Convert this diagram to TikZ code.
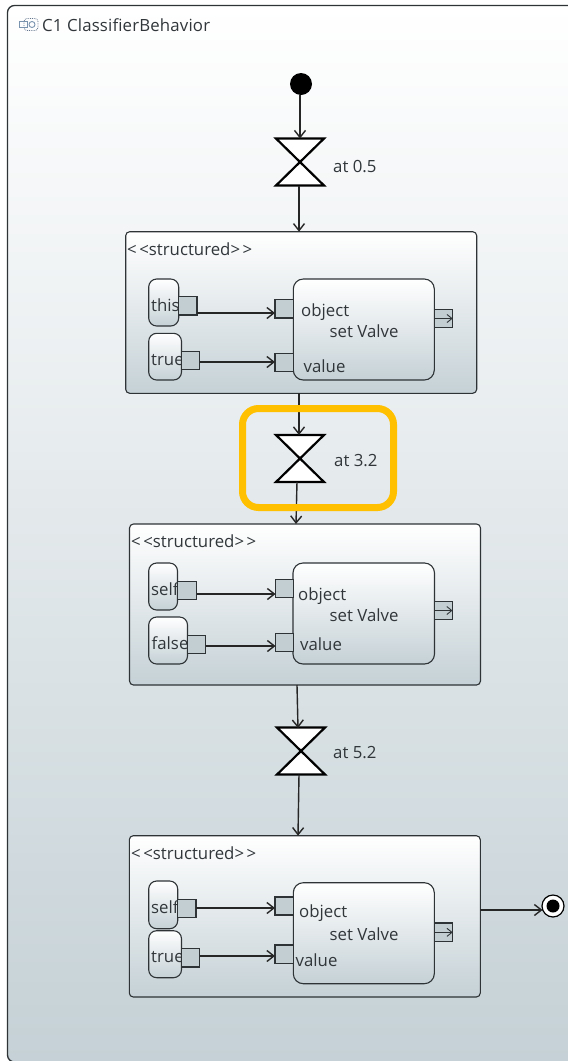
\documentclass[tikz,border=0pt]{standalone}
\usepackage{fontspec}
\setmainfont{Open Sans}
\usetikzlibrary{arrows.meta,calc}
\definecolor{bluegrey}{HTML}{C5D1D6}
\definecolor{pinfill}{HTML}{C3CED2}
\definecolor{linegrey}{HTML}{2E3336}
\definecolor{txt}{HTML}{30363A}
\definecolor{hl}{HTML}{FFC000}
\definecolor{iconc}{HTML}{7A94B0}
\tikzset{
  grad/.style={draw=linegrey,line width=1.1pt,top color=white,bottom color=bluegrey,inner sep=0pt,outer sep=0pt},
  frameb/.style={grad,rounded corners=7pt,line width=1.3pt},
  group/.style={grad,rounded corners=4pt},
  action/.style={grad,rounded corners=10pt},
  valpin/.style={grad,rounded corners=8pt},
  pinb/.style={draw=linegrey,line width=1.1pt,fill=pinfill,inner sep=0pt,outer sep=0pt},
  hourb/.style={inner sep=0pt,outer sep=0pt,minimum width=48pt,minimum height=47pt},
  hourl/.style={draw=black,line width=2.2pt,fill=white,line join=miter},
  conn/.style={draw=black!85,line width=1.4pt,-{Straight Barb[length=7pt,width=11pt,line width=1.4pt]}},
  thin conn/.style={draw=linegrey,line width=.9pt,-{Straight Barb[length=5pt,width=8pt,line width=.9pt]}},
  lab/.style={text=txt,font=\fontsize{16.8}{18}\selectfont,inner sep=0pt,anchor=base west},
  sterotype/.style={lab},
}
% corner-specified node: style, name, x1, y1, x2, y2
\newcommand\rn[6]{\path let \n1={#5-#3},\n2={#6-#4} in
  node[#1,minimum width=\n1,minimum height=\n2] (#2) at ({(#3+#5)/2},{(#4+#6)/2}) {};}
\newcommand\hourg[3]{\node[hourb] (#1) at (#2,#3) {};
  \draw[hourl] (#1.north west) -- (#1.north east) -- (#1.south west) -- (#1.south east) -- cycle;}
\newcommand\stereo{<\kern2.5pt<structured>\kern2.5pt>}
\begin{document}
\begin{tikzpicture}[x=1pt,y=-1pt]
\useasboundingbox (0,0) rectangle (568,1061);
\clip (0,0) rectangle (568,1061);
\fill[white] (0,0) rectangle (568,1061);
\path[frameb] (7.5,5.5) rectangle (585,1062);
% frame title icon
\draw[draw=iconc!80!black,densely dotted,line width=.8pt,rounded corners=3pt] (24,18.5) rectangle (38,30.5);
\draw[draw=iconc,line width=.9pt] (19.5,21.5) rectangle (27,27.5);
\draw[draw=iconc,line width=.9pt] (32,24.5) circle (3);
\node[lab,font=\fontsize{16.8}{18}\selectfont\addfontfeatures{LetterSpace=1}] (title) at (42,31) {C1 ClassifierBehavior};
% start and timers
\node[circle,fill=black,minimum size=22pt,inner sep=0pt,outer sep=0pt] (start) at (301,84) {};
\hourg{t1}{300}{162}
\node[lab] (t1l) at (333,172) {at 0.5};
\hourg{t2}{300}{458.5}
\node[lab] (t2l) at (334,466) {at 3.2};
\hourg{t3}{301}{751}
\node[lab] (t3l) at (333,758) {at 5.2};
% group 1
\rn{group}{g1}{125.7}{231.7}{476.7}{393.3}
\node[sterotype] (g1l) at (127,255) {\stereo};
\rn{valpin}{v1a}{148.7}{279}{178.7}{326}
\node[lab] (v1at) at (151,311) {this};
\rn{pinb}{p1a}{178.7}{296.7}{197}{315}
\rn{valpin}{v1b}{148.7}{333.3}{181.5}{380}
\node[lab] (v1bt) at (151,365) {true};
\rn{pinb}{p1b}{181.5}{351.5}{199.5}{369.5}
\rn{action}{a1}{293.3}{279}{434.3}{380}
\rn{pinb}{i1a}{275}{299.7}{293.3}{318}
\rn{pinb}{i1b}{275}{353.3}{293.3}{371.7}
\rn{pinb}{o1}{434.3}{309.5}{452.7}{327.5}
\node[lab] (a1o) at (301,316.5) {object};
\node[lab] (a1s) at (329.5,337.5) {set Valve};
\node[lab] (a1v) at (303.5,372) {value};
\draw[conn] (p1a.east |- 0,313) coordinate (c1a) -- (i1a.west |- c1a);
\draw[conn] (p1b.east |- 0,362) coordinate (c1b) -- (i1b.west |- c1b);
\draw[thin conn] (o1.west) -- (o1.east);
% group 2
\rn{group}{g2}{129.5}{524}{480.5}{685}
\node[sterotype] (g2l) at (131,547) {\stereo};
\rn{valpin}{v2a}{148.7}{563}{177.5}{610}
\node[lab] (v2at) at (151,595) {self};
\rn{pinb}{p2a}{177.5}{581.5}{196.5}{599.5}
\rn{valpin}{v2b}{148.7}{617}{187.5}{664}
\node[lab] (v2bt) at (151.5,649) {false};
\rn{pinb}{p2b}{187.5}{635.5}{205.5}{653.5}
\rn{action}{a2}{293}{563}{434.5}{664}
\rn{pinb}{i2a}{275.5}{579.5}{293.5}{597.5}
\rn{pinb}{i2b}{275.5}{633.5}{293.5}{651.5}
\rn{pinb}{o2}{434.5}{601.5}{452.5}{619.5}
\node[lab] (a2o) at (298,600) {object};
\node[lab] (a2s) at (329.5,621.5) {set Valve};
\node[lab] (a2v) at (300,650) {value};
\draw[conn] (p2a.east |- 0,594) coordinate (c2a) -- (i2a.west |- c2a);
\draw[conn] (p2b.east |- 0,646) coordinate (c2b) -- (i2b.west |- c2b);
\draw[thin conn] (o2.west) -- (o2.east);
% group 3
\rn{group}{g3}{129.3}{835.7}{480.3}{997}
\node[sterotype] (g3l) at (131,859) {\stereo};
\rn{valpin}{v3a}{148.7}{881}{177.7}{928.7}
\node[lab] (v3at) at (151,913) {self};
\rn{pinb}{p3a}{177.7}{899.3}{196}{917.7}
\rn{valpin}{v3b}{148.7}{930.7}{181.5}{977.7}
\node[lab] (v3bt) at (151,962) {true};
\rn{pinb}{p3b}{181.5}{948.7}{199.7}{967}
\rn{action}{a3}{293.3}{882.7}{434.3}{983.7}
\rn{pinb}{i3a}{275}{897}{293.3}{915}
\rn{pinb}{i3b}{275}{945}{293.3}{963.5}
\rn{pinb}{o3}{434.3}{923}{452.7}{941.7}
\node[lab] (a3o) at (299,917) {object};
\node[lab] (a3s) at (329.5,940) {set Valve};
\node[lab] (a3v) at (295.5,966) {value};
\draw[conn] (p3a.east |- 0,908) coordinate (c3a) -- (i3a.west |- c3a);
\draw[conn] (p3b.east |- 0,956) coordinate (c3b) -- (i3b.west |- c3b);
\draw[thin conn] (o3.west) -- (o3.east);
% final node
\node[circle,draw=black,line width=1.2pt,fill=white,minimum size=22pt,inner sep=0pt,outer sep=0pt] (end) at (553,906) {};
\node[circle,fill=black,minimum size=13pt,inner sep=0pt,outer sep=0pt] (endin) at (end.center) {};
% control flow
\draw[conn] (start.south) ++(-1,0) coordinate (s0) -- (t1.north);
\draw[conn] (t1.south) ++(-1,0) coordinate (s1) -- (s1 |- g1.north);
\draw[conn] (g1.south -| t2.north) ++(-1,0) coordinate (s21) -- (s21 |- t2.north);
\draw[conn] (t2.south) ++(-3,0) coordinate (s2) -- (296,524) coordinate (e2);
\draw[conn] (297,685) coordinate (s3) -- (298,728) coordinate (e3);
\draw[conn] (t3.south) ++(-2,0) coordinate (s4) -- (298,835.7) coordinate (e4);
\draw[conn] (g3.east |- 0,910) coordinate (s5) -- (542.5,910) coordinate (e5);
% highlight
\draw[draw=hl,line width=7pt,rounded corners=16pt] (242.5,408.5) rectangle (393.5,507.5);
\end{tikzpicture}
\end{document}
